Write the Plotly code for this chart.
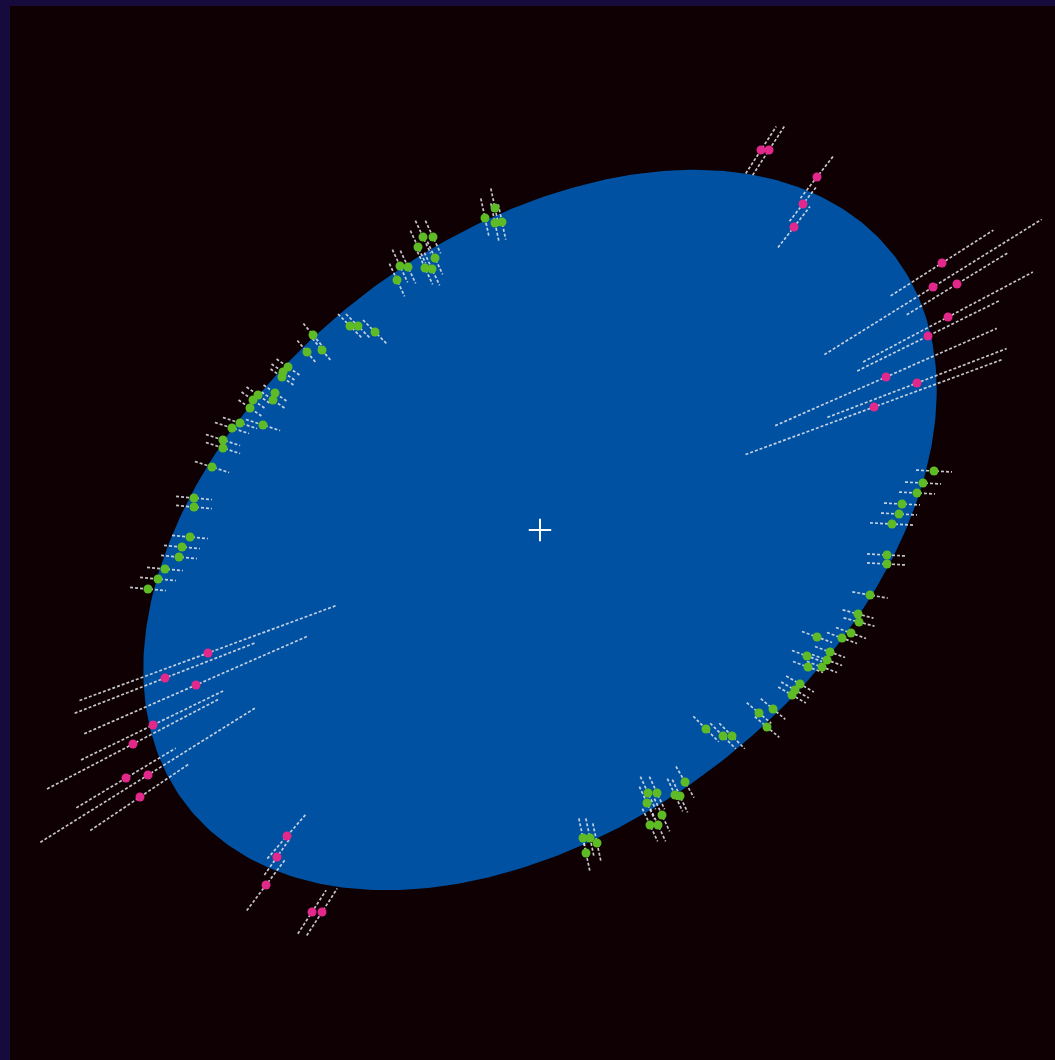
import numpy as np
import plotly.graph_objects as go

# Orbit ellipse parameters (data units)
ellipse_a = 448.0
ellipse_b = 294.0
ellipse_theta_deg = 38.0

# Pink observations: x, y, scan angle (deg), half error length
pink_x = [221, 229, 277, 263, 254, 402, 393, 417, 408, 388, 346, 377, 334,
          -332, -375, -344, -387, -407, -414, -392, -400, -253, -263, -274, -228, -218]
pink_y = [380, 380, 353, 326, 303, 267, 243, 246, 213, 194, 153, 147, 123,
          -123, -148, -155, -195, -214, -248, -245, -267, -306, -327, -355, -382, -382]
pink_ang = [57, 57, 52, 52, 52, 32.6, 31.9, 31.5, 27.9, 26.3, 23.7, 21, 20.3,
            20.3, 21.3, 23.6, 25.9, 27.6, 31, 32, 34, 49, 55, 53, 57, 57]
pink_err = [28, 30, 27, 22, 26, 61, 128, 59, 96, 79, 121, 96, 137,
            137, 97, 122, 80, 97, 58, 127, 60, 30, 22, 32, 26, 28]

# Green observations
green_x = [-45, -55, -45, -38,
           -117, -107, -122, -105, -115, -108, -140, -132, -143,
           -190, -182, -165,
           -227, -218, -233,
           -252, -257, -258, -265, -267, -287, -290, -282,
           -300, -308, -277, -317, -317, -328,
           -346, -346, -350, -358, -361, -375, -382, -392,
           394, 383, 377, 362, 359, 352, 347, 347,
           330, 318, 319, 311, 302, 277, 290, 287, 282, 267, 268,
           260, 255, 252,
           233, 219, 227,
           166, 183, 192,
           145, 108, 117, 135, 140, 107, 122, 110, 118,
           43, 50, 57, 46]
green_y = [322, 312, 307, 308,
           293, 293, 283, 272, 262, 261, 264, 263, 250,
           204, 204, 198,
           195, 180, 178,
           163, 158, 153, 137, 130, 130, 122, 135,
           107, 102, 105, 90, 82, 63,
           32, 23, -7, -17, -27, -39, -49, -59,
           59, 47, 37, 26, 16, 6, -25, -34,
           -65, -84, -92, -103, -108, -107, -122, -130, -137, -126, -137,
           -154, -160, -165,
           -179, -183, -197,
           -199, -206, -206,
           -252, -263, -263, -265, -266, -273, -285, -295, -295,
           -308, -308, -313, -323]
green_ang = [-78, -78, -78, -78,
             -65, -65, -65, -65, -65, -65, -65, -65, -65,
             -45, -45, -45,
             -50, -50, -50,
             -35, -35, -35, -35, -35, -35, -35, -35,
             -18, -18, -18, -18, -18, -18,
             -5, -5, -5, -5, -5, -5, -5, -5,
             -3, -3, -3, -3, -3, -3, -3, -3,
             -10, -15, -15, -20, -20, -20, -20, -20, -20, -20, -20,
             -30, -30, -30,
             -40, -40, -40,
             -45, -45, -45,
             -60, -65, -65, -65, -65, -65, -65, -65, -65,
             -78, -78, -78, -78]
green_err = [20, 20, 20, 18,
             18, 18, 18, 18, 18, 18, 18, 18, 18,
             17, 17, 17,
             15, 15, 15,
             14, 14, 14, 14, 14, 14, 14, 14,
             18, 18, 18, 18, 18, 18,
             18, 18, 18, 18, 18, 18, 18, 18,
             18, 18, 18, 18, 18, 22, 20, 20,
             18, 16, 16, 16, 16, 16, 16, 16, 16, 16, 16,
             16, 16, 16,
             16, 16, 16,
             18, 18, 18,
             18, 18, 18, 18, 18, 18, 18, 18, 18,
             20, 20, 20, 20]


def err_segments(xs, ys, angs, errs):
    lx, ly = [], []
    for x, y, a, e in zip(xs, ys, angs, errs):
        r = np.deg2rad(a)
        dx, dy = e * np.cos(r), e * np.sin(r)
        lx += [x - dx, x + dx, None]
        ly += [y - dy, y + dy, None]
    return lx, ly


t = np.linspace(0, 2 * np.pi, 400)
th = np.deg2rad(ellipse_theta_deg)
ex = ellipse_a * np.cos(t) * np.cos(th) - ellipse_b * np.sin(t) * np.sin(th)
ey = ellipse_a * np.cos(t) * np.sin(th) + ellipse_b * np.sin(t) * np.cos(th)

fig = go.Figure()
fig.add_trace(go.Scatter(x=ex, y=ey, mode="lines", fill="toself",
                         fillcolor="#0051a1", line=dict(color="#0051a1", width=0),
                         hoverinfo="skip", showlegend=False))

line_style = dict(color="rgba(228,230,236,0.85)", width=1.7, dash="3px,2px")
gx, gy = err_segments(green_x, green_y, green_ang, green_err)
px_, py_ = err_segments(pink_x, pink_y, pink_ang, pink_err)
fig.add_trace(go.Scatter(x=px_, y=py_, mode="lines", line=line_style,
                         hoverinfo="skip", showlegend=False))
fig.add_trace(go.Scatter(x=gx, y=gy, mode="lines", line=line_style,
                         hoverinfo="skip", showlegend=False))

fig.add_trace(go.Scatter(x=green_x, y=green_y, mode="markers",
                         marker=dict(color="#5fbb25", size=9, line=dict(width=0)),
                         showlegend=False))
fig.add_trace(go.Scatter(x=pink_x, y=pink_y, mode="markers",
                         marker=dict(color="#e2288a", size=9, line=dict(width=0)),
                         showlegend=False))

# Centre cross
fig.add_trace(go.Scatter(x=[0], y=[0], mode="markers",
                         marker=dict(symbol="cross-thin", size=16,
                                     line=dict(color="white", width=2)),
                         showlegend=False))

axis = dict(showgrid=False, zeroline=False, showticklabels=False,
            ticks="", showline=False, fixedrange=True)
fig.update_layout(
    width=1055, height=1060,
    margin=dict(l=10, r=0, t=6, b=0, pad=0),
    paper_bgcolor="#170a3c",
    plot_bgcolor="#0e0003",
    xaxis=dict(range=[-530, 515], **axis),
    yaxis=dict(range=[-530, 524], **axis),
    showlegend=False,
)

fig.write_html("out.html")
